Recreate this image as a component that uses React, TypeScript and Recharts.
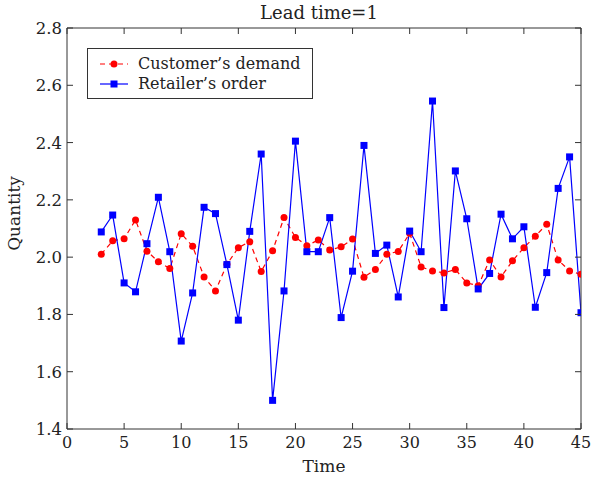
import { LineChart, Line, XAxis, YAxis, Legend } from 'recharts'

const times = [3, 4, 5, 6, 7, 8, 9, 10, 11, 12, 13, 14, 15, 16, 17, 18, 19, 20, 21, 22, 23, 24, 25, 26, 27, 28, 29, 30, 31, 32, 33, 34, 35, 36, 37, 38, 39, 40, 41, 42, 43, 44, 45]

const customerDemand = [
  2.01, 2.057, 2.064, 2.13, 2.021, 1.984, 1.96, 2.082, 2.038, 1.931, 1.882, 1.975, 2.033, 2.054,
  1.95, 2.022, 2.138, 2.069, 2.04, 2.06, 2.025, 2.036, 2.063, 1.93, 1.957, 2.01, 2.02, 2.083,
  1.966, 1.952, 1.945, 1.957, 1.91, 1.9, 1.99, 1.931, 1.987, 2.033, 2.073, 2.115, 1.99, 1.952, 1.94,
]

const retailerOrder = [
  2.088, 2.147, 1.91, 1.879, 2.047, 2.209, 2.019, 1.707, 1.875, 2.174, 2.152, 1.974, 1.78, 2.09,
  2.36, 1.5, 1.882, 2.405, 2.019, 2.019, 2.138, 1.789, 1.951, 2.39, 2.013, 2.042, 1.861, 2.091,
  2.019, 2.545, 1.824, 2.301, 2.134, 1.889, 1.943, 2.15, 2.064, 2.106, 1.825, 1.946, 2.24, 2.35, 1.806,
]

const xTicks = [0, 5, 10, 15, 20, 25, 30, 35, 40, 45]
const yTicks = [1.4, 1.6, 1.8, 2.0, 2.2, 2.4, 2.6, 2.8]

const data = times.map((t, i) => ({ t, demand: customerDemand[i], order: retailerOrder[i] }))

const font = '"DejaVu Serif", serif'
const axisColor = '#333'
const textColor = '#222'
const TICK = 6

// ticks point inward, on all four sides
const BottomTick = ({ x, y, payload }: any) => (
  <g>
    <line x1={x} y1={y} x2={x} y2={y - TICK} stroke={axisColor} />
    <text x={x} y={y + 19} textAnchor="middle" fontSize={16} fontFamily={font} fill={textColor}>
      {payload.value}
    </text>
  </g>
)

const TopTick = ({ x, y }: any) => <line x1={x} y1={y} x2={x} y2={y + TICK} stroke={axisColor} />

const LeftTick = ({ x, y, payload }: any) => (
  <g>
    <line x1={x} y1={y} x2={x + TICK} y2={y} stroke={axisColor} />
    <text x={x - 5} y={y + 6} textAnchor="end" fontSize={16.5} fontFamily={font} fill={textColor}>
      {Number(payload.value).toFixed(1)}
    </text>
  </g>
)

const RightTick = ({ x, y }: any) => <line x1={x} y1={y} x2={x - TICK} y2={y} stroke={axisColor} />

const SquareDot = (props: any) => {
  const { cx, cy, index } = props
  return <rect key={index} x={cx - 3.5} y={cy - 3.5} width={7} height={7} fill="#0000ff" />
}

const QuantityLabel = ({ viewBox }: any) => {
  const cx = viewBox.x + viewBox.width - 53.5
  const cy = viewBox.y + viewBox.height / 2 - 15
  return (
    <text
      x={cx}
      y={cy}
      transform={`rotate(-90 ${cx} ${cy})`}
      textAnchor="middle"
      dominantBaseline="central"
      fontSize={17}
      fontFamily={font}
      fill={textColor}
    >
      Quantity
    </text>
  )
}

const LegendBox = () => (
  <div
    style={{
      width: 226,
      height: 51,
      boxSizing: 'border-box',
      border: `1px solid ${axisColor}`,
      background: '#fff',
      paddingTop: 5,
      fontFamily: font,
      fontSize: 16,
      color: textColor,
    }}
  >
    <div style={{ display: 'flex', alignItems: 'center', height: 20 }}>
      <svg width={28} height={12} style={{ marginLeft: 12, marginRight: 10 }}>
        <line x1={0} y1={6} x2={28} y2={6} stroke="#ff0000" strokeWidth={1.2} strokeDasharray="5 4" />
        <circle cx={14} cy={6} r={3.5} fill="#ff0000" />
      </svg>
      <span style={{ lineHeight: '20px', whiteSpace: 'nowrap' }}>Customer’s demand</span>
    </div>
    <div style={{ display: 'flex', alignItems: 'center', height: 20 }}>
      <svg width={28} height={12} style={{ marginLeft: 12, marginRight: 10 }}>
        <line x1={0} y1={6} x2={28} y2={6} stroke="#0000ff" strokeWidth={1.2} />
        <rect x={10.5} y={2.5} width={7} height={7} fill="#0000ff" />
      </svg>
      <span style={{ lineHeight: '20px', whiteSpace: 'nowrap' }}>Retailer’s order</span>
    </div>
  </div>
)

export default function App() {
  return (
    <div style={{ position: 'absolute', left: 0, top: 0, width: 591, height: 479, background: '#fff' }}>
      <svg width={591} height={30} style={{ position: 'absolute', left: 0, top: 0 }}>
        <text x={319} y={19} textAnchor="middle" fontSize={18} fontFamily={font} fill={textColor}>
          Lead time=1
        </text>
      </svg>
      <LineChart width={591} height={479} data={data} margin={{ top: 27, right: 9, bottom: 49, left: 66 }}>
        <XAxis
          dataKey="t"
          type="number"
          domain={[0, 45]}
          ticks={xTicks}
          height={1}
          tickSize={0}
          tickMargin={0}
          tickLine={false}
          tick={<BottomTick />}
          axisLine={{ stroke: axisColor }}
          allowDataOverflow
          label={{ value: 'Time', position: 'bottom', offset: 30, fontSize: 17, fontFamily: font, fill: textColor }}
        />
        <XAxis
          xAxisId="top"
          dataKey="t"
          orientation="top"
          type="number"
          domain={[0, 45]}
          ticks={xTicks}
          height={1}
          tickSize={0}
          tickMargin={0}
          tickLine={false}
          tick={<TopTick />}
          axisLine={{ stroke: axisColor }}
          allowDataOverflow
        />
        <YAxis
          type="number"
          domain={[1.4, 2.8]}
          ticks={yTicks}
          width={1}
          tickSize={0}
          tickMargin={0}
          tickLine={false}
          tick={<LeftTick />}
          axisLine={{ stroke: axisColor }}
          allowDataOverflow
          label={{ content: <QuantityLabel /> }}
        />
        <YAxis
          yAxisId="right"
          orientation="right"
          type="number"
          domain={[1.4, 2.8]}
          ticks={yTicks}
          width={1}
          tickSize={0}
          tickMargin={0}
          tickLine={false}
          tick={<RightTick />}
          axisLine={{ stroke: axisColor }}
          allowDataOverflow
        />
        <Legend
          layout="vertical"
          align="center"
          verticalAlign="middle"
          content={<LegendBox />}
          wrapperStyle={{ left: 87, top: 48, width: 226 }}
        />
        <Line
          dataKey="demand"
          name="Customer’s demand"
          stroke="#ff0000"
          strokeWidth={1.2}
          strokeDasharray="5 4"
          dot={{ r: 3.5, fill: '#ff0000', stroke: 'none' }}
          activeDot={false}
          isAnimationActive={false}
        />
        <Line
          dataKey="order"
          name="Retailer’s order"
          stroke="#0000ff"
          strokeWidth={1.2}
          dot={<SquareDot />}
          activeDot={false}
          isAnimationActive={false}
        />
      </LineChart>
    </div>
  )
}
